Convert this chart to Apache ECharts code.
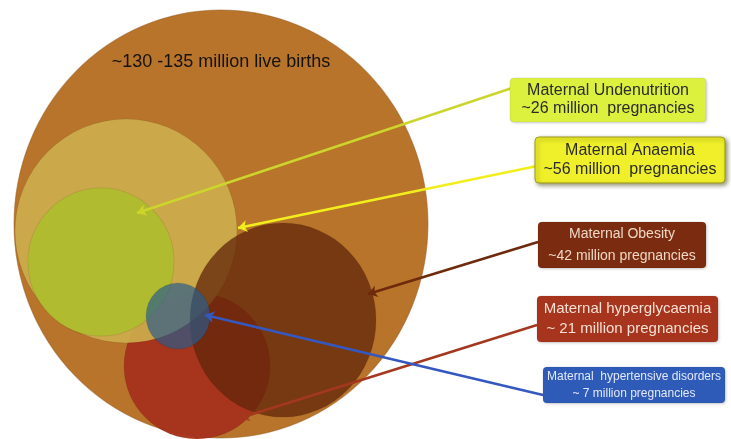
<!DOCTYPE html>
<html>
<head>
<meta charset="utf-8">
<script src="https://cdn.jsdelivr.net/npm/echarts@6/dist/echarts.min.js"></script>
<style>
  html, body { margin: 0; padding: 0; background: #ffffff; }
  #chart { width: 731px; height: 439px; }
</style>
</head>
<body>
<div id="chart"></div>
<script>
// Overall population and the maternal conditions nested inside it
const totalLabel = '~130 -135 million live births';
const conditions = [
  'Maternal Undenutrition',
  'Maternal Anaemia',
  'Maternal Obesity',
  'Maternal hyperglycaemia',
  'Maternal  hypertensive disorders'
];
const pregnanciesMillions = [26, 56, 42, 21, 7];
const valuePrefix = ['~', '~', '~', '~ ', '~ '];
const valueGap = ['  ', '  ', ' ', ' ', ' '];

// Diagram layout in plot units (plot spans 0..731 by 0..439)
// circles: [cx, cy, rx, ry], drawn back to front
const circleNames = ['births', 'hyperglycaemia', 'anaemia', 'undernutrition', 'obesity', 'hypertensive'];
const circleGeom = [
  [221, 224, 207, 214],
  [197, 366, 73, 73],
  [126, 231, 111, 112],
  [101, 262, 73, 74],
  [283, 320, 93, 97],
  [178, 316, 32, 33]
];
const circleFill = [
  '#B8742A',
  'rgba(166,50,28,0.97)',
  'rgba(204,172,76,0.93)',
  'rgba(176,188,46,0.97)',
  'rgba(98,38,10,0.76)',
  'rgba(40,92,140,0.68)'
];

// label boxes: [x, y, width, height]
const boxGeom = [
  [510, 78, 196, 44],
  [535, 137, 190, 46],
  [538, 222, 168, 46],
  [537, 296, 181, 46],
  [543, 367, 182, 36]
];
const boxFill = ['#DCF03E', '#F0F02A', '#7B2B0F', '#A7341C', '#2F5BB8'];
const boxText = ['#2b2b2b', '#2b2b2b', '#EED8C6', '#F4E0D4', '#E2E8F6'];
const boxFont = [16, 16, 14, 15, 12];
const boxLineHeight = [18, 19, 22, 20, 17];

// connector arrows: start at the box, end inside the circle
const arrowFrom = [[512, 88], [537, 166], [538, 242], [537, 325], [543, 395]];
const arrowTo = [[137, 213], [238, 228], [368, 294], [240, 418], [205, 315]];
const arrowColor = ['#CDD42C', '#F2EE1E', '#6E2A0C', '#A3381E', '#3558C0'];

const chart = echarts.init(document.getElementById('chart'), null, { renderer: 'canvas' });

const circleData = circleGeom.map((g, i) => ({ name: circleNames[i], value: g }));
const boxData = boxGeom.map((g, i) => ({ name: conditions[i], value: g.concat([pregnanciesMillions[i]]) }));

chart.setOption({
  animation: false,
  backgroundColor: '#ffffff',
  grid: { left: 0, right: 0, top: 0, bottom: 0 },
  xAxis: { type: 'value', min: 0, max: 731, show: false },
  yAxis: { type: 'value', min: 0, max: 439, inverse: true, show: false },
  series: [
    {
      type: 'custom',
      name: 'circles',
      coordinateSystem: 'cartesian2d',
      silent: true,
      data: circleData,
      renderItem: function (params, api) {
        const i = params.dataIndex;
        const c = api.coord([api.value(0), api.value(1)]);
        const s = api.size([api.value(2), api.value(3)]);
        const children = [{
          type: 'circle',
          shape: { cx: c[0], cy: c[1], r: s[0] },
          scaleX: 1,
          scaleY: s[1] / s[0],
          originX: c[0],
          originY: c[1],
          style: { fill: circleFill[i], stroke: i === 0 ? 'rgba(150,90,30,0.5)' : 'rgba(0,0,0,0.08)', lineWidth: 1 }
        }];
        if (i === 0) {
          children.push({
            type: 'text',
            x: c[0],
            y: api.coord([0, 62])[1],
            style: {
              text: totalLabel,
              fill: '#15130f',
              font: '18px "Liberation Sans", Arial, sans-serif',
              align: 'center',
              verticalAlign: 'middle'
            }
          });
        }
        return { type: 'group', children: children };
      },
      z: 1
    },
    {
      type: 'lines',
      coordinateSystem: 'cartesian2d',
      silent: true,
      symbol: ['none', 'arrow'],
      symbolSize: [0, 9],
      data: arrowFrom.map((p, i) => ({
        coords: [p, arrowTo[i]],
        lineStyle: { color: arrowColor[i], width: 2.5, opacity: 1 }
      })),
      z: 3
    },
    {
      type: 'custom',
      name: 'labels',
      coordinateSystem: 'cartesian2d',
      silent: true,
      data: boxData,
      renderItem: function (params, api) {
        const i = params.dataIndex;
        const p = api.coord([api.value(0), api.value(1)]);
        const s = api.size([api.value(2), api.value(3)]);
        const n = api.value(4);
        const fs = boxFont[i];
        const lines = conditions[i] + '\n' + valuePrefix[i] + n + ' million' + valueGap[i] + 'pregnancies';
        return {
          type: 'group',
          children: [
            {
              type: 'rect',
              shape: { x: p[0], y: p[1], width: s[0], height: s[1], r: 4 },
              style: {
                fill: boxFill[i],
                stroke: i === 1 ? '#9E9A18' : 'rgba(0,0,0,0.06)',
                lineWidth: 1,
                shadowBlur: i === 1 ? 4 : 3,
                shadowOffsetX: i === 1 ? 2 : 1,
                shadowOffsetY: i === 1 ? 2 : 1,
                shadowColor: i === 1 ? 'rgba(60,60,0,0.55)' : 'rgba(0,0,0,0.2)'
              }
            },
            {
              type: 'text',
              x: p[0] + s[0] / 2,
              y: p[1] + s[1] / 2,
              style: {
                text: lines,
                fill: boxText[i],
                font: fs + 'px "Liberation Sans", Arial, sans-serif',
                lineHeight: boxLineHeight[i],
                align: 'center',
                verticalAlign: 'middle'
              }
            }
          ]
        };
      },
      z: 4
    }
  ]
});
</script>
</body>
</html>
